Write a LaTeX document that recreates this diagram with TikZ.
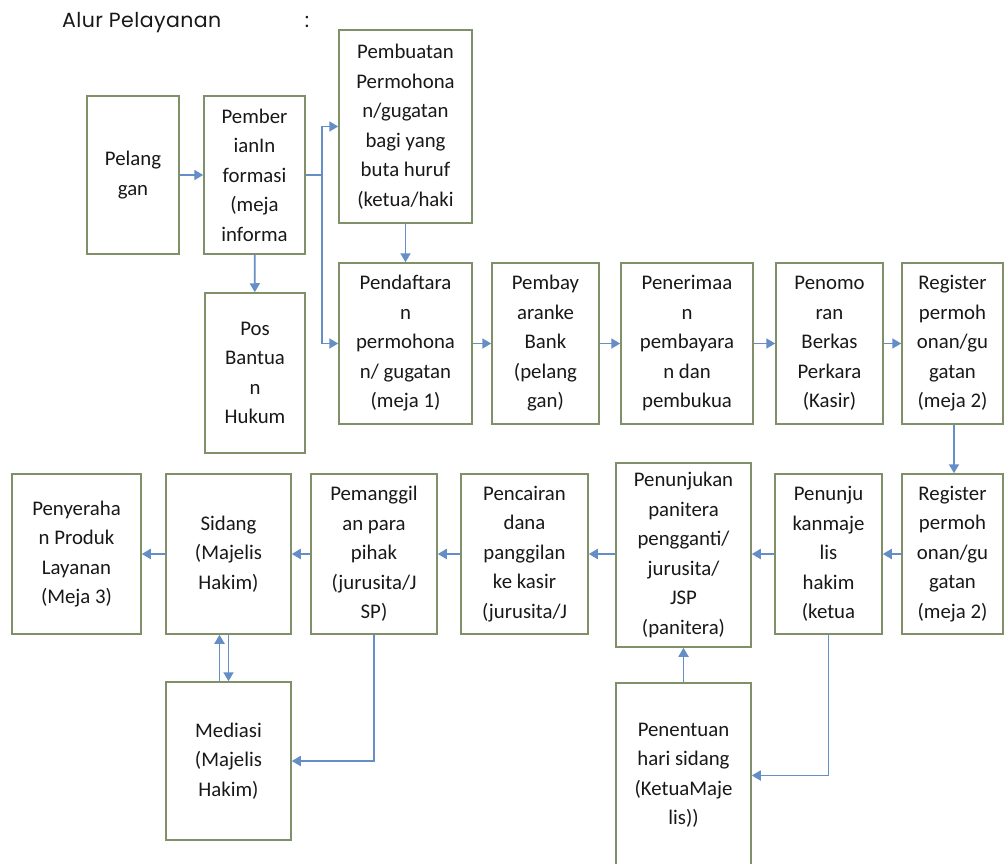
\documentclass[tikz,border=0pt]{standalone}
\usepackage{fontspec}
\setmainfont{Carlito}
\newfontfamily\titlefont[LetterSpace = 2]{Poppins}
\usetikzlibrary{arrows.meta}
\definecolor{boxline}{RGB}{128,144,104}
\definecolor{flowblue}{RGB}{102,142,198}
\definecolor{inktext}{RGB}{24,24,24}
\tikzset{
  box/.style = {draw = boxline, line width = 1.5pt, rectangle, align = center, inner sep = 0pt,
    text = inktext, font = \fontsize{20.8}{29.5}\selectfont},
  flow/.style = {draw = flowblue, line width = 1.8pt, -{Triangle[length = 9pt, width = 10pt]}},
  link/.style = {draw = flowblue, line width = 1.8pt}
}

\begin{document}
\begin{tikzpicture}[x = 1pt, y = -1pt]
  \useasboundingbox (0, 0) rectangle (1004, 864);

  % title
  \node [anchor = base west, inner sep = 0, text = inktext, font = \titlefont\fontsize{20.5}{24}\selectfont] (title) at (62, 28) {Alur Pelayanan};
  \node [anchor = base, inner sep = 0, text = inktext, font = \titlefont\fontsize{20.5}{24}\selectfont] (colon) at (307, 28) {:};

  % upper rows
  \node [box, minimum width = 92pt, minimum height = 158pt] (pelanggan) at (133, 175) {Pelang\\gan};
  \node [box, minimum width = 101pt, minimum height = 158pt] (pemberian) at (254.5, 175) {Pember\\ianIn\\formasi\\(meja\\informa};
  \node [box, minimum width = 133pt, minimum height = 193pt] (pembuatan) at (405.5, 126.5) {Pembuatan\\Permohona\\n/gugatan\\bagi yang\\buta huruf\\(ketua/haki};
  \node [box, minimum width = 100pt, minimum height = 160pt] (posbantuan) at (255, 373) {Pos\\Bantua\\n\\Hukum};
  \node [box, minimum width = 133pt, minimum height = 161pt] (pendaftaran) at (405.5, 343.5) {Pendaftara\\n\\permohona\\n/ gugatan\\(meja 1)};
  \node [box, minimum width = 107pt, minimum height = 161pt] (pembayaran) at (545.5, 343.5) {Pembay\\aranke\\Bank\\(pelang\\gan)};
  \node [box, minimum width = 132pt, minimum height = 161pt] (penerimaan) at (687, 343.5) {Penerimaa\\n\\pembayara\\n dan\\pembukua};
  \node [box, minimum width = 107pt, minimum height = 161pt] (penomoran) at (829.5, 343.5) {Penomo\\ran\\Berkas\\Perkara\\(Kasir)};
  \node [box, minimum width = 101pt, minimum height = 161pt] (registera) at (952.5, 343.5) {Register\\permoh\\onan/gu\\gatan\\(meja 2)};

  % lower rows
  \node [box, minimum width = 101pt, minimum height = 160pt] (registerb) at (952.5, 554) {Register\\permoh\\onan/gu\\gatan\\(meja 2)};
  \node [box, minimum width = 107pt, minimum height = 160pt] (majelis) at (828.5, 554) {Penunju\\kanmaje\\lis\\hakim\\(ketua};
  \node [box, minimum width = 135pt, minimum height = 184pt] (panitera) at (683.5, 555) {Penunjukan\\panitera\\pengganti/\\jurusita/\\JSP\\(panitera)};
  \node [box, minimum width = 127pt, minimum height = 160pt] (pencairan) at (524.5, 554) {Pencairan\\dana\\panggilan\\ke kasir\\(jurusita/J};
  \node [box, minimum width = 126pt, minimum height = 160pt] (pemanggilan) at (374, 554) {Pemanggil\\an para\\pihak\\(jurusita/J\\SP)};
  \node [box, minimum width = 125pt, minimum height = 160pt] (sidang) at (228.5, 554) {Sidang\\(Majelis\\Hakim)};
  \node [box, minimum width = 129pt, minimum height = 160pt] (penyerahan) at (76.5, 554) {Penyeraha\\n Produk\\Layanan\\(Meja 3)};
  \node [box, minimum width = 125pt, minimum height = 158pt] (mediasi) at (228.5, 761) {Mediasi\\(Majelis\\Hakim)};
  \node [box, minimum width = 135pt, minimum height = 185pt] (penentuan) at (683.5, 775.5) {Penentuan\\hari sidang\\(KetuaMaje\\lis))};

  % connectors
  \coordinate (fork) at (322, 175);
  \draw [flow] (pelanggan) -- (pemberian);
  \draw [link] (pemberian.east) -- (fork);
  \draw [flow] (fork) |- (pembuatan.west);
  \draw [flow] (fork) |- (pendaftaran.west);
  \draw [flow] (pemberian) -- (posbantuan);
  \draw [flow] (pembuatan) -- (pendaftaran);
  \draw [flow] (pendaftaran) -- (pembayaran);
  \draw [flow] (pembayaran) -- (penerimaan);
  \draw [flow] (penerimaan) -- (penomoran);
  \draw [flow] (penomoran) -- (registera);
  \draw [flow] (registera.south -| 954, 0) -- (registerb.north -| 954, 0);
  \draw [flow] (registerb) -- (majelis);
  \draw [flow] (majelis.west) -- (majelis.west -| panitera.east);
  \draw [flow] (pencairan.east -| panitera.west) -- (pencairan.east);
  \draw [flow] (pencairan) -- (pemanggilan);
  \draw [flow] (pemanggilan) -- (sidang);
  \draw [flow] (sidang) -- (penyerahan);
  \draw [flow] (majelis.south) |- (penentuan.east);
  \draw [flow] (penentuan) -- (panitera);
  \draw [flow] (pemanggilan.south) |- (mediasi.east);
  \draw [flow] (sidang) -- (mediasi);
  \draw [flow] ([xshift = -9pt] mediasi.north) -- ([xshift = -9pt] sidang.south);
\end{tikzpicture}
\end{document}
